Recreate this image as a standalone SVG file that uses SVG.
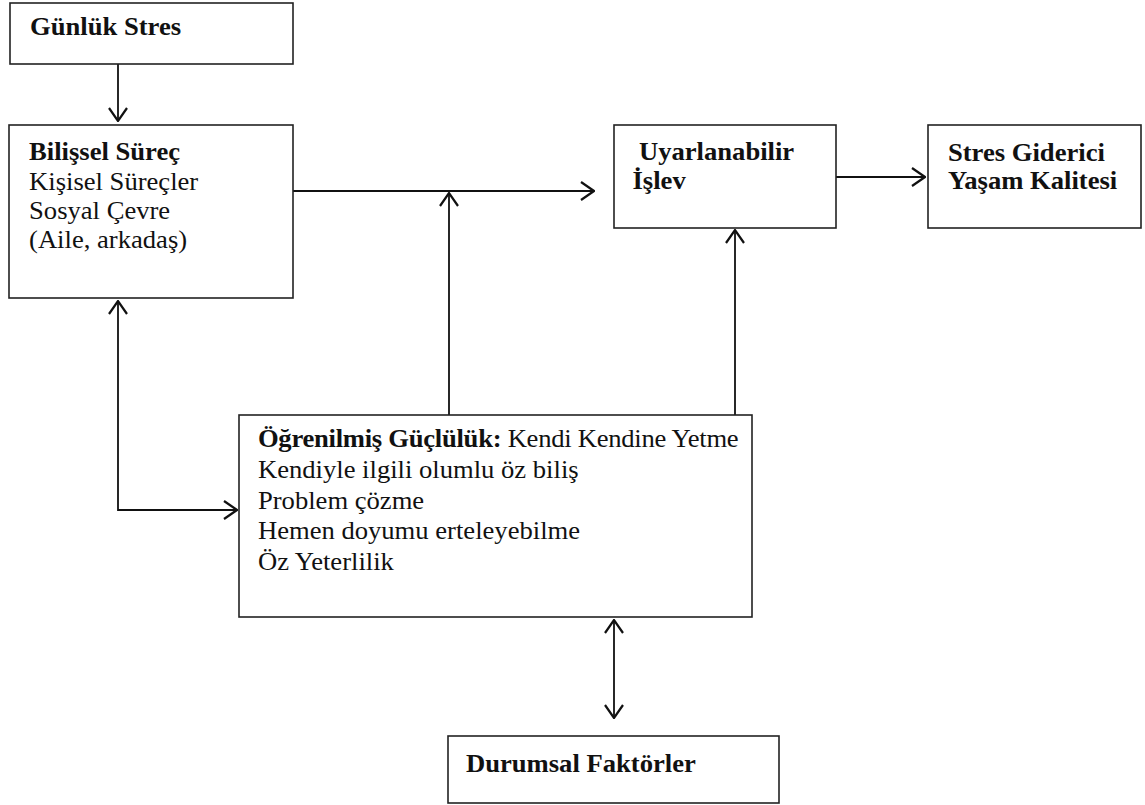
<svg xmlns="http://www.w3.org/2000/svg" width="1145" height="805" viewBox="0 0 1145 805">
<style>
.box{fill:#fff;stroke:#222;stroke-width:1.6}
.t{font-family:"Liberation Serif","Times New Roman",serif;font-size:24.2px;fill:#111}
.b{font-weight:bold}
.c{fill:none;stroke:#111;stroke-width:1.8}
</style>
<defs>
<marker id="ah" viewBox="0 0 15 20" refX="14" refY="10" markerWidth="15" markerHeight="20" markerUnits="userSpaceOnUse" orient="auto-start-reverse">
<path d="M1,1 L14,10 L1,19" fill="none" stroke="#111" stroke-width="2.2"/>
</marker>
</defs>
<rect width="1145" height="805" fill="#fff"/>
<g id="connectors">
<path class="c" d="M118,64 V121" marker-end="url(#ah)"/>
<path class="c" d="M293,191 H594" marker-end="url(#ah)"/>
<path class="c" d="M449,415 V193" marker-end="url(#ah)"/>
<path class="c" d="M735,415 V230" marker-end="url(#ah)"/>
<path class="c" d="M836,177 H925" marker-end="url(#ah)"/>
<path class="c" d="M118,301 V510 H237" marker-start="url(#ah)" marker-end="url(#ah)"/>
<path class="c" d="M614,620 V718" marker-start="url(#ah)" marker-end="url(#ah)"/>
</g>
<g id="gunluk">
<rect class="box" x="10" y="3" width="283" height="61"/>
<g transform="scale(1.1,1)"><text class="t b" x="27.3" y="35">Günlük Stres</text></g>
</g>
<g id="bilissel">
<rect class="box" x="9" y="125" width="284" height="173"/>
<g transform="scale(1.1,1)">
<text class="t b" x="26.4" y="160">Bilişsel Süreç</text>
<text class="t" x="26.4" y="190">Kişisel Süreçler</text>
<text class="t" x="26.4" y="219">Sosyal Çevre</text>
<text class="t" x="26.4" y="248">(Aile, arkadaş)</text>
</g>
</g>
<g id="uyarlanabilir">
<rect class="box" x="614" y="125" width="222" height="103"/>
<g transform="scale(1.1,1)">
<text class="t b" x="580.9" y="160">Uyarlanabilir</text>
<text class="t b" x="575" y="189">İşlev</text>
</g>
</g>
<g id="stres-giderici">
<rect class="box" x="928" y="125" width="213" height="103"/>
<g transform="scale(1.1,1)">
<text class="t b" x="861.8" y="161">Stres Giderici</text>
<text class="t b" x="861.8" y="189">Yaşam Kalitesi</text>
</g>
</g>
<g id="ogrenilmis">
<rect class="box" x="239" y="415" width="513" height="202"/>
<g transform="scale(1.1,1)">
<text class="t" x="234.5" y="447" textLength="437" lengthAdjust="spacing"><tspan class="b">Öğrenilmiş Güçlülük:</tspan> Kendi Kendine Yetme</text>
<text class="t" x="234.5" y="478">Kendiyle ilgili olumlu öz biliş</text>
<text class="t" x="234.5" y="509">Problem çözme</text>
<text class="t" x="234.5" y="539">Hemen doyumu erteleyebilme</text>
<text class="t" x="234.5" y="570">Öz Yeterlilik</text>
</g>
</g>
<g id="durumsal">
<rect class="box" x="448" y="736" width="331" height="67"/>
<g transform="scale(1.1,1)"><text class="t b" x="423.6" y="772">Durumsal Faktörler</text></g>
</g>
</svg>
